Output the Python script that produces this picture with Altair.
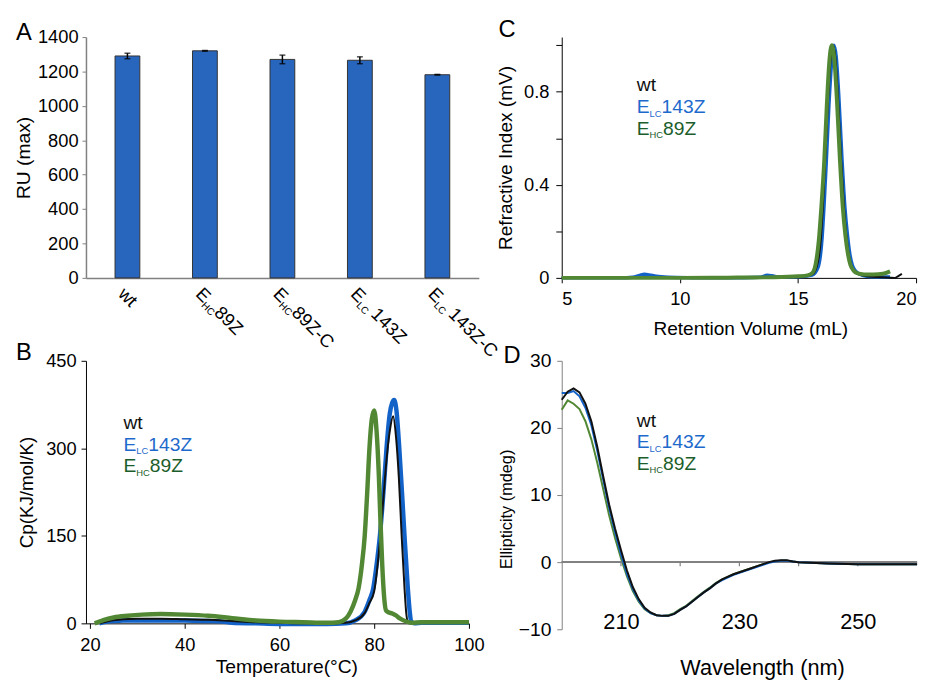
import altair as alt
import pandas as pd

FONT = "Liberation Sans"
BLACK = "#111111"
GRAY = "#808080"
BAR_FILL = "#2866BE"
BLUE_LINE = "#1262C8"
GREEN_LINE = "#528834"
BLUE_TEXT = "#1E6ACC"
GREEN_TEXT = "#1C5E2B"

# ---------------- Panel A : SPR binding (RU max) ----------------
a_cats = ["wt", "EHC89Z", "EHC89Z-C", "ELC143Z", "ELC143Z-C"]
a_pre = ["wt", "E", "E", "E", "E"]
a_sub = ["", "HC", "HC", "LC", "LC"]
a_post = ["", "89Z", "89Z-C", "143Z", "143Z-C"]
a_ru = [1290, 1320, 1270, 1265, 1181]
a_err = [16, 2, 25, 20, 2]
a_ticks = [0, 200, 400, 600, 800, 1000, 1200, 1400]

# ---------------- Panel B : DSC ----------------
b_wt_t = [22, 24, 27, 30, 35, 40, 45, 50, 55, 60, 65, 70, 74, 76, 78, 79, 80, 81.2, 82.0, 82.6,
          83.3, 84.0, 84.6, 85.2, 85.8, 86.4, 86.8, 87.2, 88, 90, 95, 100]
b_wt_cp = [0, 4, 7, 8, 8, 7, 6, 4, 2, 1, 0, 0, 1, 5, 18, 35, 55, 140, 220, 280,
           330, 355, 320, 250, 150, 60, 15, 1, 0, 1, 1, 1]
b_elc_t = [22, 23, 25, 27, 30, 35, 40, 45, 48, 50, 55, 60, 65, 70, 74, 76, 78, 79, 79.8, 80.5,
           81.2, 82.0, 82.6, 83.3, 83.8, 84.2, 84.7, 85.3, 85.9, 86.4, 87.1, 87.5, 87.8, 88.5, 90, 95, 100]
b_elc_cp = [0, 2, 4, 5, 5, 5, 5, 4, 3, 1, 0, -1, -1, -1, 0, 5, 20, 40, 60, 100,
            150, 230, 300, 360, 378, 383, 365, 300, 220, 150, 60, 20, 3, 0, 1, 1, 1]
b_ehc_t = [21, 22, 23, 25, 28, 31, 35, 40, 45, 50, 55, 60, 65, 70, 72.5, 74, 75, 76, 76.7, 77.4,
           78.0, 78.5, 79.0, 79.5, 80.0, 80.5, 81.0, 81.3, 81.7, 82.1, 82.5, 83.0, 83.8, 84.5, 85.5, 86.5,
           88, 90, 95, 100]
b_ehc_cp = [0, 3, 6, 10, 13, 15, 16, 15, 13, 9, 5, 3, 2, 1, 2, 8, 20, 40, 60, 100,
            150, 220, 300, 350, 365, 330, 250, 180, 100, 45, 22, 19, 17, 14, 8, 4,
            1, 2, 2, 2]
b_xticks = [20, 40, 60, 80, 100]
b_yticks = [0, 150, 300, 450]

# ---------------- Panel C : SEC ----------------
c_wt_v = [5, 8, 10, 12, 14, 15, 15.6, 15.8, 15.97, 16.06, 16.15, 16.26, 16.37, 16.48, 16.58, 16.69,
          16.83, 16.95, 17.05, 17.15, 17.25, 17.4, 17.6, 18.0, 18.5, 18.9, 19.1, 19.25, 19.4]
c_wt_ri = [0, 0, 0, 0, 0.002, 0.005, 0.015, 0.05, 0.17, 0.32, 0.5, 0.74, 0.92, 1.0, 0.95, 0.78,
           0.5, 0.3, 0.18, 0.1, 0.055, 0.028, 0.015, 0.006, 0.003, 0.001, 0.0, 0.008, 0.017]
c_elc_v = [5, 7.5, 8.0, 8.3, 8.5, 8.7, 9.0, 9.5, 10.5, 12, 13.4, 13.7, 13.9, 14.2, 15, 15.6, 15.85,
           16.02, 16.11, 16.2, 16.31, 16.42, 16.52, 16.62, 16.73, 16.87, 16.99, 17.1, 17.2, 17.3,
           17.45, 17.7, 18.1, 18.9]
c_elc_ri = [0, 0, 0.003, 0.011, 0.016, 0.013, 0.007, 0.003, 0.001, 0, 0.003, 0.011, 0.009, 0.004,
            0.005, 0.012, 0.045, 0.17, 0.32, 0.5, 0.74, 0.92, 1.0, 0.95, 0.78, 0.5, 0.3, 0.18, 0.1,
            0.055, 0.028, 0.012, 0.005, 0.004]
c_ehc_v = [5, 8, 10, 12, 14, 15, 15.4, 15.6, 15.75, 15.88, 16.0, 16.11, 16.22, 16.32, 16.43, 16.53,
           16.64, 16.78, 16.9, 17.01, 17.12, 17.22, 17.35, 17.5, 17.8, 18.2, 18.6, 18.9]
c_ehc_ri = [0, 0, 0, 0.001, 0.003, 0.007, 0.011, 0.02, 0.06, 0.16, 0.32, 0.5, 0.74, 0.92, 1.0, 0.95,
            0.78, 0.5, 0.3, 0.18, 0.1, 0.056, 0.032, 0.02, 0.015, 0.015, 0.018, 0.028]
c_xticks = [5, 10, 15, 20]
c_yticks = [0, 0.2, 0.4, 0.6, 0.8, 1.0]

# ---------------- Panel D : CD spectra ----------------
d_wl = list(range(200, 241)) + [242, 245, 250, 255, 260]
d_wt = [24.2, 25.4, 25.9, 25.3, 23.6, 21.0, 17.2, 12.8, 8.6, 5.0,
        1.8, -1.2, -3.7, -5.5, -6.8, -7.5, -7.9, -8.0, -8.0, -7.7,
        -7.1, -6.6, -5.9, -5.2, -4.5, -3.9, -3.2, -2.6, -2.2, -1.8,
        -1.5, -1.2, -0.9, -0.6, -0.3, 0.0, 0.2, 0.3, 0.3, 0.1,
        0.0, -0.1, -0.2, -0.3, -0.3, -0.3]
d_elc = [25.2, 25.2, 25.5, 24.7, 23.0, 20.4, 16.6, 12.3, 8.1, 4.5,
         1.2, -1.7, -4.0, -5.7, -6.9, -7.6, -7.9, -8.0, -8.0, -7.7,
         -7.1, -6.6, -5.9, -5.2, -4.5, -3.9, -3.2, -2.7, -2.3, -1.9,
         -1.6, -1.3, -1.0, -0.7, -0.4, -0.1, 0.1, 0.2, 0.2, 0.1,
         0.0, -0.1, -0.2, -0.3, -0.3, -0.3]
d_ehc = [22.7, 24.1, 23.6, 22.8, 21.0, 18.3, 14.8, 10.9, 7.0, 3.6,
         0.6, -2.1, -4.3, -5.9, -7.0, -7.6, -7.9, -8.0, -7.9, -7.6,
         -7.0, -6.5, -5.8, -5.1, -4.4, -3.8, -3.1, -2.6, -2.2, -1.8,
         -1.5, -1.2, -0.9, -0.6, -0.3, 0.0, 0.1, 0.2, 0.2, 0.1,
         0.0, -0.1, -0.2, -0.3, -0.3, -0.3]
d_yticks = [-10, 0, 10, 20, 30]
d_xlabels = [210, 230, 250]
d_zero_ticks = [210, 220, 230, 240, 250]

# ---------------- legend text ----------------
leg_pre = ["wt", "E", "E"]
leg_sub = ["", "LC", "HC"]
leg_post = ["", "143Z", "89Z"]
leg_colors = [BLACK, BLUE_TEXT, GREEN_TEXT]

# ---------------- sizes ----------------
W_A, H_A = 398, 244
W_C, H_C = 359, 244
W_B, H_B = 388, 266
W_D, H_D = 360, 272


def piece(txt, x, y, size, color, dx=0, dy=0):
    return alt.Chart(pd.DataFrame({"t": [txt]})).mark_text(
        align="left", baseline="alphabetic", fontSize=size, color=color, font=FONT, dx=dx, dy=dy
    ).encode(x=alt.value(x), y=alt.value(y), text="t:N")


def legend(x0, y0, step=22, fs=19.5, sfs=9.5):
    out = []
    for i in range(3):
        y = y0 + i * step
        out.append(piece(leg_pre[i], x0, y, fs, leg_colors[i]))
        if leg_sub[i]:
            w_e = 0.667 * fs
            w_sub = (0.556 + 0.722 if leg_sub[i] == "LC" else 1.444) * sfs
            out.append(piece(leg_sub[i], x0 + w_e, y + 3.5, sfs, leg_colors[i]))
            out.append(piece(leg_post[i], x0 + w_e + w_sub, y, fs, leg_colors[i]))
    return out


# ================= Panel A =================
dfA = pd.DataFrame({"cat": a_cats, "pre": a_pre, "sub": a_sub, "post": a_post,
                    "ru": a_ru, "err": a_err})
dfA["lo"] = dfA["ru"] - dfA["err"]
dfA["hi"] = dfA["ru"] + dfA["err"]

xA = alt.X("cat:N", sort=a_cats, title=None,
           scale=alt.Scale(paddingInner=0.68, paddingOuter=0.375),
           axis=alt.Axis(labels=False, ticks=False, domainColor=GRAY, domainWidth=1.5))


def yA(field):
    return alt.Y(f"{field}:Q", title="RU (max)",
                 scale=alt.Scale(domain=[0, 1400], nice=False),
                 axis=alt.Axis(values=a_ticks, format="d", domainColor=GRAY, domainWidth=1.5,
                               tickColor=GRAY, tickSize=4, labelPadding=4, labelFontSize=18.5,
                               titleFontSize=19.5, titleX=-53))


barsA = alt.Chart(dfA).mark_bar(color=BAR_FILL, stroke="#333333", strokeWidth=1).encode(x=xA, y=yA("ru"))
errA = alt.Chart(dfA).mark_rule(color="black", strokeWidth=1.5).encode(x=xA, y=yA("lo"), y2="hi:Q")
capLo = alt.Chart(dfA).mark_tick(color="black", size=6, thickness=1.5).encode(x=xA, y=yA("lo"))
capHi = alt.Chart(dfA).mark_tick(color="black", size=6, thickness=1.5).encode(x=xA, y=yA("hi"))


def rot(field, size, dx, dy, filt=None):
    ch = alt.Chart(dfA)
    if filt:
        ch = ch.transform_filter(filt)
    return ch.mark_text(angle=45, align="left", baseline="alphabetic", fontSize=size, dx=dx, dy=dy,
                        color="black", font=FONT).encode(x=xA, y=alt.value(H_A + 7), text=f"{field}:N")


labA = [rot("pre", 18.5, 0, 14.6),
        rot("sub", 10, 12.3, 18.2),
        rot("post", 18.5, 12.3 + 14.4, 14.6, "datum.sub == 'HC'"),
        rot("post", 18.5, 12.3 + 12.8 + 4, 14.6, "datum.sub == 'LC'")]

panelA = alt.layer(barsA, errA, capLo, capHi, *labA,
                   piece("A", -71, 3, 24, "black")).properties(width=W_A, height=H_A)

# ================= Panel B =================
xB = alt.X("T:Q", title="Temperature(°C)",
           scale=alt.Scale(domain=[19.17, 100], nice=False, zero=False),
           axis=alt.Axis(values=b_xticks, labelFlush=False, domainColor="black", tickColor="black",
                         tickSize=5, labelPadding=8, labelFontSize=18.5, titleFontSize=19.5,
                         titleX=203, titleY=35))
yB = alt.Y("Cp:Q", title="Cp(KJ/mol/K)",
           scale=alt.Scale(domain=[0, 450], nice=False),
           axis=alt.Axis(values=b_yticks, domainColor="black", tickColor="black", tickSize=5,
                         labelPadding=5, labelFontSize=18.5, titleFontSize=19, titleX=-50))


def dsc(t, cp, color, w):
    return alt.Chart(pd.DataFrame({"T": t, "Cp": cp})).mark_line(
        color=color, strokeWidth=w, interpolate="monotone").encode(x=xB, y=yB)


panelB = alt.layer(dsc(b_elc_t, b_elc_cp, BLUE_LINE, 4.5),
                   dsc(b_wt_t, b_wt_cp, BLACK, 2),
                   dsc(b_ehc_t, b_ehc_cp, GREEN_LINE, 4.5),
                   *legend(38, 69),
                   piece("B", -71, -1, 24, "black")).properties(width=W_B, height=H_B)

# ================= Panel C =================
xC = alt.X("V:Q", title="Retention Volume (mL)",
           scale=alt.Scale(domain=[5, 20], nice=False, zero=False),
           axis=alt.Axis(values=c_xticks, domainColor="black", tickColor="black", tickSize=5,
                         labelPadding=7, labelFontSize=18.5, titleFontSize=19.3,
                         titleX=191, titleY=42))
yC = alt.Y("RI:Q", title="Refractive Index (mV)",
           scale=alt.Scale(domain=[0, 1.035], nice=False),
           axis=alt.Axis(values=c_yticks, format="~g",
                         labelExpr="(datum.value == 0 || abs(datum.value - 0.4) < 0.01 || abs(datum.value - 0.8) < 0.01) ? datum.label : ''",
                         domainColor="black", tickColor="black", tickSize=6, labelPadding=7,
                         labelFontSize=18.5, titleFontSize=19.3, titleX=-47))


def sec(v, ri, color, w):
    return alt.Chart(pd.DataFrame({"V": v, "RI": ri})).mark_line(
        color=color, strokeWidth=w, interpolate="monotone").encode(x=xC, y=yC)


panelC = alt.layer(sec(c_elc_v, c_elc_ri, BLUE_LINE, 3.5),
                   sec(c_wt_v, c_wt_ri, BLACK, 2),
                   sec(c_ehc_v, c_ehc_ri, GREEN_LINE, 4),
                   *legend(76, 55),
                   piece("C", -64, 0, 24, "black")).properties(width=W_C, height=H_C)

# ================= Panel D =================
xD = alt.X("wl:Q", title="Wavelength (nm)",
           scale=alt.Scale(domain=[200, 260], nice=False, zero=False),
           axis=alt.Axis(values=d_xlabels, labelFlush=False, domain=False, ticks=False, tickSize=0,
                         labelPadding=-18, labelFontSize=22, titleFontSize=22, titleX=203, titleY=29))
yD = alt.Y("el:Q", title="Ellipticity (mdeg)",
           scale=alt.Scale(domain=[-10, 30], nice=False),
           axis=alt.Axis(values=d_yticks, domainColor=GRAY, tickColor=GRAY, tickSize=5, labelPadding=6,
                         labelFontSize=19.5, titleFontSize=16.5, titleX=-48, titleY=150))


def cd(vals, color, w):
    return alt.Chart(pd.DataFrame({"wl": d_wl, "el": vals})).mark_line(
        color=color, strokeWidth=w).encode(x=xD, y=yD)


zeroD = alt.Chart(pd.DataFrame({"wl": d_zero_ticks})).mark_rule(color=GRAY, strokeWidth=1.2).encode(
    y=alt.datum(0))
zticksD = alt.Chart(pd.DataFrame({"wl": d_zero_ticks})).mark_rule(color=GRAY, strokeWidth=1.2).encode(
    x=xD, y=alt.datum(0), y2=alt.datum(-0.6))

panelD = alt.layer(cd(d_ehc, GREEN_LINE, 2),
                   zeroD, zticksD,
                   cd(d_elc, BLUE_LINE, 2),
                   cd(d_wt, BLACK, 2),
                   *legend(76, 67, step=21.6),
                   piece("D", -59, 2, 24, "black")).properties(width=W_D, height=H_D)

chart = alt.concat(panelA, panelC, panelB, panelD, columns=2,
                   spacing=alt.RowColnumber(row=84, column=84), bounds="flush").properties(
    padding={"left": 5, "top": 5, "right": 0, "bottom": 0}
).configure_view(stroke="transparent").configure_axis(
    labelFont=FONT, titleFont=FONT, titleFontWeight="normal", labelColor="black",
    titleColor="black", grid=False
)

chart.save("out.html", embed_options={"renderer": "svg", "actions": False})
